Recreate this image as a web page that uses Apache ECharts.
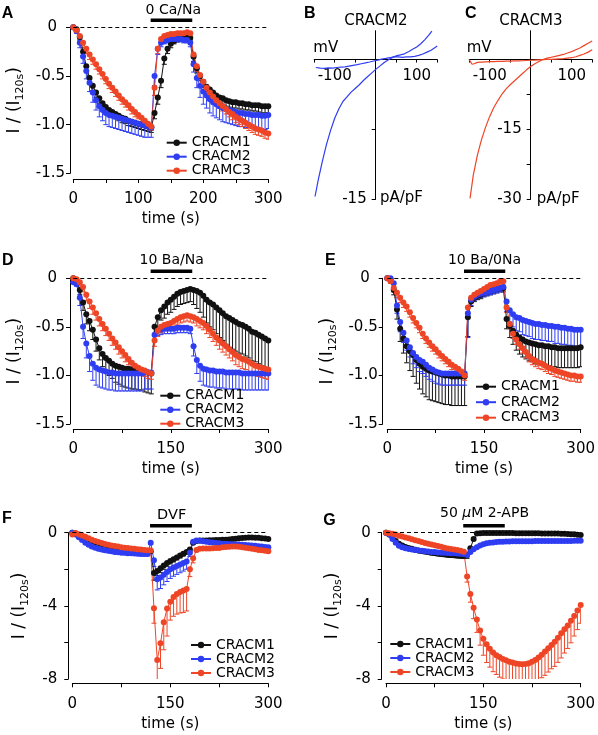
<!DOCTYPE html>
<html><head><meta charset="utf-8">
<script src="https://cdn.jsdelivr.net/npm/echarts@6/dist/echarts.min.js"></script>
<style>html,body{margin:0;padding:0;background:#fff}#c{width:598px;height:735px}</style>
</head><body><div id="c"></div>
<script>
// ---------- DATA ----------
const times = [0,5,10,15,20,25,30,35,40,45,50,55,60,65,70,75,80,85,90,95,100,105,110,115,120,125,130,135,140,145,150,155,160,165,170,175,180,185,190,195,200,205,210,215,220,225,230,235,240,245,250,255,260,265,270,275,280,285,290,295,300];
const stimWindow = [119, 183];

// Panel A (0 Ca/Na)
const A_CRACM1 = [0,-0.02,-0.10,-0.25,-0.40,-0.52,-0.60,-0.67,-0.73,-0.78,-0.82,-0.85,-0.87,-0.89,-0.91,-0.93,-0.94,-0.96,-0.97,-0.98,-0.99,-1.00,-1.01,-1.02,-1.03,-0.88,-0.72,-0.55,-0.32,-0.22,-0.17,-0.14,-0.12,-0.11,-0.10,-0.10,-0.11,-0.30,-0.42,-0.50,-0.56,-0.61,-0.64,-0.67,-0.70,-0.72,-0.73,-0.75,-0.76,-0.77,-0.77,-0.78,-0.78,-0.79,-0.79,-0.80,-0.80,-0.80,-0.81,-0.81,-0.81];
const A_CRACM1_err = [0,0.01,0.03,0.04,0.05,0.05,0.05,0.05,0.05,0.05,0.05,0.05,0.05,0.05,0.05,0.05,0.05,0.05,0.05,0.05,0.05,0.05,0.05,0.05,0.05,0.06,0.07,0.07,0.06,0.05,0.04,0.03,0.03,0.03,0.03,0.03,0.03,0.05,0.05,0.05,0.06,0.06,0.06,0.06,0.06,0.06,0.06,0.06,0.06,0.06,0.06,0.06,0.06,0.06,0.06,0.06,0.06,0.07,0.07,0.07,0.07];
const A_CRACM2 = [0,-0.04,-0.16,-0.30,-0.45,-0.57,-0.67,-0.75,-0.81,-0.85,-0.88,-0.90,-0.91,-0.92,-0.93,-0.94,-0.95,-0.96,-0.97,-0.98,-0.99,-1.00,-1.01,-1.02,-1.03,-0.50,-0.22,-0.16,-0.14,-0.13,-0.12,-0.12,-0.12,-0.12,-0.13,-0.13,-0.16,-0.38,-0.52,-0.60,-0.66,-0.70,-0.74,-0.77,-0.79,-0.81,-0.83,-0.84,-0.85,-0.86,-0.87,-0.88,-0.88,-0.89,-0.89,-0.90,-0.90,-0.90,-0.91,-0.91,-0.90];
const A_CRACM2_err = [0,0.02,0.05,0.07,0.08,0.09,0.10,0.10,0.11,0.11,0.12,0.12,0.12,0.12,0.12,0.12,0.12,0.12,0.12,0.12,0.12,0.12,0.12,0.11,0.10,0.10,0.06,0.04,0.03,0.03,0.03,0.03,0.03,0.03,0.03,0.03,0.04,0.08,0.10,0.12,0.13,0.13,0.14,0.14,0.14,0.14,0.14,0.14,0.14,0.14,0.14,0.14,0.14,0.14,0.14,0.14,0.14,0.14,0.14,0.14,0.14];
const A_CRAMC3 = [0,-0.03,-0.09,-0.16,-0.22,-0.28,-0.33,-0.38,-0.43,-0.48,-0.53,-0.58,-0.62,-0.66,-0.70,-0.74,-0.77,-0.80,-0.84,-0.87,-0.90,-0.93,-0.96,-0.99,-1.02,-0.62,-0.22,-0.12,-0.09,-0.08,-0.07,-0.07,-0.06,-0.06,-0.06,-0.05,-0.06,-0.28,-0.40,-0.49,-0.56,-0.62,-0.67,-0.71,-0.75,-0.78,-0.81,-0.84,-0.87,-0.89,-0.92,-0.94,-0.96,-0.98,-1.00,-1.02,-1.04,-1.05,-1.06,-1.08,-1.09];
const A_CRAMC3_err = [0,0.02,0.04,0.05,0.05,0.05,0.05,0.05,0.05,0.05,0.05,0.05,0.05,0.05,0.05,0.05,0.05,0.05,0.05,0.05,0.04,0.04,0.04,0.04,0.04,0.08,0.05,0.03,0.02,0.02,0.02,0.02,0.02,0.02,0.02,0.02,0.02,0.04,0.05,0.05,0.05,0.05,0.05,0.05,0.05,0.05,0.05,0.05,0.05,0.06,0.06,0.06,0.06,0.06,0.06,0.06,0.06,0.06,0.06,0.06,0.06];

// Panel D (10 Ba/Na)
const D_CRACM1 = [0,-0.03,-0.12,-0.25,-0.37,-0.44,-0.53,-0.63,-0.72,-0.78,-0.82,-0.85,-0.88,-0.90,-0.91,-0.92,-0.93,-0.93,-0.94,-0.94,-0.95,-0.95,-0.96,-0.97,-0.98,-0.50,-0.40,-0.33,-0.29,-0.25,-0.22,-0.19,-0.16,-0.14,-0.13,-0.12,-0.11,-0.12,-0.13,-0.15,-0.18,-0.22,-0.25,-0.27,-0.30,-0.33,-0.36,-0.39,-0.41,-0.43,-0.45,-0.47,-0.48,-0.50,-0.52,-0.55,-0.56,-0.58,-0.60,-0.62,-0.64];
const D_CRACM1_err = [0,0.02,0.05,0.08,0.10,0.10,0.10,0.12,0.12,0.13,0.14,0.15,0.15,0.17,0.18,0.19,0.19,0.20,0.20,0.20,0.20,0.20,0.21,0.21,0.21,0.10,0.10,0.10,0.12,0.12,0.13,0.13,0.13,0.13,0.13,0.13,0.13,0.15,0.18,0.20,0.22,0.24,0.25,0.26,0.27,0.28,0.28,0.29,0.30,0.30,0.30,0.30,0.30,0.30,0.30,0.30,0.30,0.30,0.30,0.30,0.30];
const D_CRACM2 = [-0.04,-0.06,-0.20,-0.50,-0.67,-0.80,-0.88,-0.92,-0.94,-0.95,-0.96,-0.97,-0.97,-0.98,-0.98,-0.98,-0.98,-0.98,-0.98,-0.98,-0.98,-0.98,-0.97,-0.97,-0.97,-0.58,-0.54,-0.53,-0.52,-0.52,-0.52,-0.52,-0.51,-0.51,-0.51,-0.51,-0.52,-0.70,-0.84,-0.90,-0.93,-0.94,-0.95,-0.95,-0.96,-0.96,-0.96,-0.97,-0.97,-0.97,-0.97,-0.97,-0.98,-0.98,-0.98,-0.98,-0.98,-0.98,-0.98,-0.98,-0.98];
const D_CRACM2_err = [0,0.02,0.08,0.12,0.15,0.16,0.17,0.18,0.18,0.18,0.18,0.18,0.18,0.18,0.18,0.18,0.18,0.18,0.18,0.18,0.18,0.18,0.17,0.17,0.17,0.06,0.05,0.05,0.05,0.05,0.05,0.05,0.05,0.05,0.05,0.05,0.05,0.10,0.14,0.16,0.17,0.17,0.17,0.17,0.17,0.17,0.17,0.17,0.17,0.17,0.17,0.17,0.17,0.17,0.17,0.17,0.17,0.17,0.17,0.17,0.17];
const D_CRACM3 = [0,-0.01,-0.04,-0.09,-0.17,-0.24,-0.30,-0.36,-0.42,-0.47,-0.52,-0.57,-0.62,-0.66,-0.71,-0.75,-0.79,-0.83,-0.87,-0.90,-0.92,-0.94,-0.95,-0.97,-0.98,-0.64,-0.54,-0.50,-0.48,-0.47,-0.46,-0.44,-0.42,-0.40,-0.39,-0.38,-0.39,-0.40,-0.42,-0.44,-0.46,-0.49,-0.53,-0.57,-0.61,-0.64,-0.67,-0.70,-0.73,-0.76,-0.79,-0.81,-0.83,-0.84,-0.86,-0.88,-0.90,-0.91,-0.92,-0.93,-0.94];
const D_CRACM3_err = [0,0.02,0.04,0.05,0.06,0.07,0.07,0.07,0.07,0.07,0.07,0.07,0.07,0.07,0.07,0.07,0.07,0.06,0.06,0.06,0.06,0.06,0.06,0.06,0.06,0.06,0.06,0.06,0.06,0.06,0.06,0.06,0.06,0.06,0.06,0.06,0.06,0.06,0.07,0.07,0.07,0.08,0.08,0.08,0.08,0.09,0.09,0.09,0.09,0.09,0.10,0.10,0.10,0.10,0.10,0.10,0.10,0.10,0.10,0.10,0.10];

// Panel E (10 Ba/0Na)
const E_CRACM1 = [0,-0.01,-0.12,-0.32,-0.52,-0.62,-0.70,-0.75,-0.79,-0.84,-0.88,-0.91,-0.93,-0.95,-0.96,-0.97,-0.98,-0.99,-1.00,-1.00,-1.01,-1.01,-1.01,-1.01,-1.01,-0.40,-0.24,-0.20,-0.18,-0.17,-0.15,-0.14,-0.13,-0.12,-0.11,-0.10,-0.10,-0.42,-0.49,-0.54,-0.58,-0.61,-0.63,-0.65,-0.66,-0.67,-0.68,-0.69,-0.69,-0.70,-0.70,-0.71,-0.71,-0.72,-0.72,-0.72,-0.72,-0.72,-0.72,-0.72,-0.71];
const E_CRACM1_err = [0,0.02,0.05,0.10,0.13,0.15,0.17,0.20,0.22,0.24,0.26,0.28,0.29,0.30,0.30,0.30,0.30,0.30,0.30,0.30,0.30,0.30,0.30,0.30,0.30,0.20,0.05,0.04,0.04,0.04,0.04,0.04,0.04,0.04,0.04,0.04,0.04,0.10,0.12,0.14,0.16,0.17,0.18,0.18,0.19,0.19,0.20,0.20,0.20,0.20,0.20,0.20,0.20,0.20,0.20,0.20,0.20,0.20,0.20,0.20,0.20];
const E_CRACM2 = [0,0,-0.05,-0.28,-0.45,-0.56,-0.64,-0.71,-0.77,-0.81,-0.84,-0.86,-0.89,-0.92,-0.94,-0.96,-0.97,-0.98,-0.98,-0.98,-0.98,-0.98,-0.98,-0.98,-0.98,-0.36,-0.22,-0.19,-0.17,-0.16,-0.15,-0.14,-0.13,-0.12,-0.11,-0.10,-0.09,-0.24,-0.33,-0.37,-0.40,-0.41,-0.43,-0.44,-0.45,-0.46,-0.47,-0.47,-0.48,-0.48,-0.49,-0.49,-0.50,-0.50,-0.51,-0.51,-0.52,-0.52,-0.53,-0.53,-0.53];
const E_CRACM2_err = [0,0.01,0.05,0.08,0.10,0.10,0.10,0.10,0.11,0.11,0.12,0.12,0.12,0.12,0.12,0.12,0.12,0.12,0.12,0.12,0.12,0.12,0.12,0.12,0.12,0.25,0.06,0.04,0.04,0.04,0.04,0.04,0.04,0.04,0.04,0.04,0.04,0.10,0.12,0.13,0.14,0.14,0.15,0.15,0.15,0.16,0.16,0.16,0.16,0.16,0.16,0.16,0.17,0.17,0.17,0.17,0.17,0.17,0.17,0.17,0.17];
const E_CRACM3 = [0,-0.03,-0.10,-0.15,-0.20,-0.25,-0.29,-0.35,-0.41,-0.46,-0.51,-0.57,-0.62,-0.66,-0.70,-0.73,-0.77,-0.80,-0.83,-0.86,-0.89,-0.91,-0.93,-0.96,-1.00,-0.30,-0.20,-0.17,-0.15,-0.13,-0.11,-0.09,-0.07,-0.06,-0.05,-0.03,-0.03,-0.30,-0.47,-0.57,-0.63,-0.68,-0.72,-0.76,-0.80,-0.83,-0.85,-0.87,-0.88,-0.90,-0.92,-0.93,-0.95,-0.96,-0.97,-0.98,-0.99,-1.00,-1.00,-1.01,-1.01];
const E_CRACM3_err = [0,0.02,0.04,0.05,0.05,0.05,0.05,0.05,0.05,0.05,0.05,0.05,0.05,0.05,0.05,0.05,0.05,0.05,0.05,0.05,0.05,0.05,0.05,0.05,0.05,0.05,0.04,0.04,0.04,0.04,0.04,0.04,0.04,0.04,0.04,0.04,0.04,0.05,0.05,0.05,0.05,0.05,0.05,0.06,0.06,0.06,0.06,0.06,0.06,0.06,0.06,0.06,0.06,0.06,0.06,0.06,0.06,0.06,0.06,0.06,0.06];

// Panel F (DVF)
const F_CRACM1 = [0,-0.05,-0.15,-0.25,-0.33,-0.40,-0.46,-0.52,-0.57,-0.62,-0.66,-0.70,-0.74,-0.77,-0.80,-0.83,-0.86,-0.88,-0.90,-0.92,-0.94,-0.96,-0.98,-1.00,-1.02,-2.20,-2.10,-1.95,-1.80,-1.66,-1.55,-1.45,-1.35,-1.25,-1.15,-1.05,-0.92,-0.55,-0.45,-0.42,-0.42,-0.42,-0.41,-0.41,-0.40,-0.40,-0.39,-0.38,-0.37,-0.35,-0.33,-0.31,-0.29,-0.27,-0.26,-0.26,-0.27,-0.28,-0.30,-0.32,-0.34];
const F_CRACM1_err = [0,0.02,0.03,0.04,0.05,0.05,0.05,0.05,0.05,0.05,0.05,0.05,0.05,0.05,0.05,0.05,0.05,0.05,0.05,0.05,0.05,0.05,0.05,0.05,0.05,0.40,0.25,0.22,0.20,0.18,0.16,0.15,0.14,0.13,0.12,0.12,0.10,0.06,0.05,0.05,0.05,0.05,0.05,0.05,0.05,0.05,0.05,0.05,0.05,0.05,0.05,0.05,0.05,0.05,0.05,0.05,0.05,0.05,0.05,0.05,0.05];
const F_CRACM2 = [0,-0.10,-0.25,-0.40,-0.55,-0.66,-0.75,-0.82,-0.88,-0.92,-0.96,-0.99,-1.02,-1.05,-1.07,-1.09,-1.10,-1.12,-1.13,-1.14,-1.15,-1.16,-1.17,-1.17,-0.55,-1.50,-2.55,-2.45,-2.30,-2.15,-2.00,-1.90,-1.82,-1.74,-1.66,-1.58,-1.10,-0.50,-0.42,-0.44,-0.47,-0.50,-0.52,-0.54,-0.56,-0.58,-0.60,-0.61,-0.62,-0.63,-0.64,-0.65,-0.66,-0.67,-0.68,-0.70,-0.72,-0.74,-0.76,-0.78,-0.80];
const F_CRACM2_err = [0,0.03,0.05,0.07,0.08,0.09,0.10,0.10,0.10,0.10,0.10,0.10,0.10,0.10,0.10,0.10,0.10,0.10,0.10,0.10,0.10,0.10,0.10,0.10,0.10,0.35,0.58,0.60,0.55,0.52,0.50,0.48,0.46,0.45,0.44,0.42,0.20,0.08,0.06,0.06,0.06,0.06,0.06,0.06,0.06,0.06,0.06,0.06,0.06,0.06,0.06,0.06,0.06,0.06,0.06,0.06,0.06,0.06,0.06,0.06,0.06];
const F_CRACM3 = [-0.10,-0.02,-0.08,-0.15,-0.22,-0.30,-0.38,-0.45,-0.51,-0.57,-0.62,-0.66,-0.70,-0.73,-0.76,-0.79,-0.82,-0.84,-0.86,-0.88,-0.90,-0.92,-0.94,-0.96,-0.98,-4.13,-6.96,-6.05,-4.90,-4.15,-3.78,-3.52,-3.35,-3.24,-3.16,-3.08,-2.00,-1.40,-0.95,-0.88,-0.86,-0.86,-0.86,-0.85,-0.84,-0.83,-0.80,-0.78,-0.77,-0.76,-0.76,-0.77,-0.79,-0.82,-0.85,-0.88,-0.91,-0.94,-0.96,-0.99,-1.02];
const F_CRACM3_err = [0,0.02,0.03,0.03,0.03,0.03,0.03,0.03,0.03,0.03,0.03,0.03,0.03,0.03,0.03,0.03,0.03,0.03,0.03,0.03,0.03,0.03,0.03,0.03,0.03,0.82,1.10,1.37,1.50,1.50,1.00,1.05,1.10,1.15,1.20,1.20,0.40,0.25,0.10,0.05,0.05,0.05,0.05,0.05,0.05,0.05,0.05,0.05,0.05,0.05,0.05,0.05,0.05,0.05,0.05,0.05,0.05,0.05,0.05,0.05,0.05];

// Panel G (50 uM 2-APB)
const G_CRACM1 = [0,-0.10,-0.25,-0.45,-0.60,-0.70,-0.78,-0.84,-0.88,-0.93,-0.97,-1.00,-1.03,-1.06,-1.09,-1.11,-1.14,-1.16,-1.18,-1.20,-1.22,-1.23,-1.25,-1.26,-1.27,-1.20,-0.85,-0.35,-0.05,-0.03,-0.02,-0.02,-0.02,-0.02,-0.02,-0.02,-0.02,-0.02,-0.02,-0.02,-0.03,-0.03,-0.03,-0.03,-0.03,-0.03,-0.03,-0.03,-0.04,-0.04,-0.04,-0.04,-0.05,-0.05,-0.06,-0.06,-0.07,-0.08,-0.09,-0.11,-0.13];
const G_CRACM1_err = [0,0.02,0.04,0.06,0.07,0.08,0.09,0.10,0.10,0.11,0.11,0.12,0.12,0.12,0.12,0.13,0.13,0.13,0.13,0.13,0.13,0.13,0.13,0.13,0.13,0.20,0.15,0.08,0.03,0.02,0.02,0.02,0.02,0.02,0.02,0.02,0.02,0.02,0.02,0.02,0.02,0.02,0.02,0.02,0.02,0.02,0.02,0.02,0.02,0.02,0.02,0.02,0.02,0.02,0.02,0.02,0.02,0.02,0.02,0.02,0.02];
const G_CRACM2 = [0,-0.10,-0.35,-0.55,-0.72,-0.80,-0.85,-0.89,-0.92,-0.95,-0.97,-0.99,-1.01,-1.03,-1.05,-1.06,-1.08,-1.09,-1.10,-1.11,-1.12,-1.13,-1.14,-1.15,-1.16,-1.22,-1.05,-0.90,-0.79,-0.70,-0.63,-0.58,-0.55,-0.53,-0.51,-0.50,-0.49,-0.48,-0.48,-0.47,-0.47,-0.47,-0.47,-0.47,-0.47,-0.47,-0.46,-0.46,-0.46,-0.46,-0.46,-0.46,-0.46,-0.46,-0.45,-0.45,-0.45,-0.45,-0.44,-0.44,-0.44];
const G_CRACM2_err = [0,0.02,0.05,0.07,0.08,0.08,0.08,0.08,0.08,0.08,0.08,0.08,0.08,0.08,0.08,0.08,0.08,0.08,0.08,0.08,0.08,0.08,0.08,0.08,0.08,0.10,0.08,0.06,0.05,0.05,0.05,0.05,0.05,0.05,0.05,0.05,0.05,0.05,0.05,0.05,0.05,0.05,0.05,0.05,0.05,0.05,0.05,0.05,0.05,0.05,0.05,0.05,0.05,0.05,0.05,0.05,0.05,0.05,0.05,0.05,0.05];
const G_CRACM3 = [0,-0.03,-0.06,-0.10,-0.16,-0.21,-0.26,-0.31,-0.36,-0.41,-0.46,-0.51,-0.56,-0.60,-0.65,-0.69,-0.73,-0.77,-0.82,-0.86,-0.89,-0.92,-0.95,-0.99,-1.04,-2.40,-3.35,-4.10,-4.75,-5.35,-5.80,-6.10,-6.35,-6.55,-6.70,-6.80,-6.90,-6.98,-7.06,-7.10,-7.15,-7.18,-7.20,-7.18,-7.14,-7.06,-6.96,-6.83,-6.68,-6.50,-6.32,-6.14,-5.96,-5.74,-5.50,-5.28,-5.08,-4.82,-4.55,-4.25,-3.95];
const G_CRACM3_err = [0,0.02,0.03,0.03,0.04,0.04,0.04,0.04,0.05,0.05,0.05,0.05,0.05,0.05,0.05,0.05,0.05,0.05,0.05,0.05,0.05,0.05,0.05,0.05,0.05,0.30,0.45,0.60,0.70,0.80,0.90,1.00,1.00,1.05,1.05,1.10,1.10,1.10,1.10,1.10,1.10,1.10,1.10,1.15,1.15,1.20,1.20,1.25,1.25,1.30,1.30,1.30,1.35,1.35,1.35,1.30,1.25,1.20,1.10,1.05,1.00];

// Panel B (CRACM2 I-V)
const B_trace1_mV = [-148,-140,-130,-120,-110,-100,-90,-80,-70,-60,-50,-40,-30,-20,-10,0,10,20,30,40,50,60,70,80,90,100,110,120,130,137];
const B_trace1_pA = [-14.7,-12.9,-10.9,-9.1,-7.6,-6.3,-5.3,-4.5,-4.0,-3.5,-3.1,-2.7,-2.25,-1.85,-1.45,-1.05,-0.7,-0.35,-0.05,0.2,0.4,0.5,0.62,0.85,1.1,1.35,1.7,2.15,2.65,3.05];
const B_trace2_mV = [-146,-135,-125,-115,-105,-95,-85,-75,-65,-55,-45,-35,-25,-15,-5,5,15,25,35,45,55,65,75,85,95,105,115,125,135,145,150];
const B_trace2_pA = [-0.85,-0.92,-0.95,-0.9,-0.92,-0.85,-0.8,-0.78,-0.7,-0.62,-0.55,-0.45,-0.36,-0.26,-0.15,-0.05,0.05,0.12,0.2,0.32,0.28,0.24,0.28,0.3,0.35,0.45,0.6,0.8,1.0,1.3,1.45];
// Panel C (CRACM3 I-V)
const C_trace1_mV = [-148,-140,-130,-120,-110,-100,-90,-80,-70,-60,-50,-40,-30,-20,-10,0,10,20,30,40,50,60,70,80,90,100,110,120,130,140,150];
const C_trace1_pA = [-29.8,-24.8,-20.5,-17.2,-14.5,-12.2,-10.3,-8.8,-7.4,-6.3,-5.4,-4.6,-3.8,-3.0,-2.2,-1.5,-0.9,-0.4,0.0,0.3,0.5,0.7,0.9,1.1,1.4,1.7,2.1,2.5,3.0,3.5,4.0];
const C_trace2_mV = [-150,-147,-143,-138,-130,-120,-110,-100,-90,-80,-70,-60,-50,-40,-30,-20,-10,0,10,20,30,40,50,60,70,80,90,100,110,120,130,140,150];
const C_trace2_pA = [0.0,-0.4,-1.0,-0.9,-0.6,-0.55,-0.5,-0.45,-0.45,-0.4,-0.4,-0.35,-0.35,-0.3,-0.3,-0.25,-0.2,-0.15,-0.1,-0.05,0.0,0.05,0.05,0.1,0.15,0.2,0.3,0.4,0.6,0.9,1.2,1.6,2.1];

// ---------- CHART ----------
const FONT = "'DejaVu Sans', sans-serif";
const BLACK = '#111111', BLUE = '#2e3df2', RED = '#ee4526';
const COLS = [BLACK, BLUE, RED];

const panels = [
  {grid:{left:73.3,top:27.3,width:195,height:146}, yMin:-1.5, yInt:0.5, minorY:false, xInt:100, yOff:3.3, xOff:5.7, dec:true, nameGap:44,
   names:['CRACM1','CRACM2','CRAMC3'], vals:[A_CRACM1,A_CRACM2,A_CRAMC3], errs:[A_CRACM1_err,A_CRACM2_err,A_CRAMC3_err], leg:{left:165.7, top:135.7, gap:0}},
  {grid:{left:73.3,top:278.3,width:195,height:145.7}, yMin:-1.5, yInt:0.5, minorY:false, xInt:150, yOff:3.3, xOff:5, dec:true, nameGap:44,
   names:['CRACM1','CRACM2','CRACM3'], vals:[D_CRACM1,D_CRACM2,D_CRACM3], errs:[D_CRACM1_err,D_CRACM2_err,D_CRACM3_err], leg:{left:159.3, top:388.7, gap:0}},
  {grid:{left:387.3,top:278.3,width:195.3,height:145.7}, yMin:-1.5, yInt:0.5, minorY:false, xInt:150, yOff:4.6, xOff:5, dec:true, nameGap:44,
   names:['CRACM1','CRACM2','CRACM3'], vals:[E_CRACM1,E_CRACM2,E_CRACM3], errs:[E_CRACM1_err,E_CRACM2_err,E_CRACM3_err], leg:{left:475, top:379.7, gap:1.5}},
  {grid:{left:72.3,top:532.7,width:196,height:146.3}, yMin:-8, yInt:4, minorY:true, xInt:150, yOff:4, xOff:4.3, dec:false, nameGap:38,
   names:['CRACM1','CRACM2','CRACM3'], vals:[F_CRACM1,F_CRACM2,F_CRACM3], errs:[F_CRACM1_err,F_CRACM2_err,F_CRACM3_err], leg:{left:190, top:638, gap:0}},
  {grid:{left:386,top:532.7,width:196.7,height:146.3}, yMin:-8, yInt:4, minorY:true, xInt:150, yOff:4.3, xOff:4.3, dec:false, nameGap:38,
   names:['CRACM1','CRACM2','CRACM3'], vals:[G_CRACM1,G_CRACM2,G_CRACM3], errs:[G_CRACM1_err,G_CRACM2_err,G_CRACM3_err], leg:{left:389.3, top:637, gap:0}}
];

function errRenderer(color){
  return function(params, api){
    const t = api.value(0), v = api.value(1), e = api.value(2);
    if (!(e > 0)) return null;
    const p0 = api.coord([t, v]), p1 = api.coord([t, v - e]);
    const st = {stroke: color, lineWidth: 1, fill: null};
    return {type:'group', children:[
      {type:'line', shape:{x1:p0[0], y1:p0[1], x2:p1[0], y2:p1[1]}, style: st},
      {type:'line', shape:{x1:p1[0]-2.5, y1:p1[1], x2:p1[0]+2.5, y2:p1[1]}, style: st}
    ]};
  };
}
function stimRenderer(params, api){
  const a = api.coord([api.value(0), 0]), b = api.coord([api.value(1), 0]);
  return {type:'line', shape:{x1:a[0], y1:a[1]-7, x2:b[0], y2:b[1]-7}, style:{stroke:'#000', lineWidth:3.5}};
}

const grids = [], xAxes = [], yAxes = [], series = [], legends = [];

panels.forEach((p, i) => {
  grids.push(p.grid);
  xAxes.push({gridIndex:i, type:'value', min:0, max:300, interval:p.xInt, offset:p.xOff,
    axisLine:{onZero:false, lineStyle:{color:'#000', width:1}},
    axisTick:{length:4, lineStyle:{color:'#000'}},
    minorTick:{show:true, splitNumber:2, length:4, lineStyle:{color:'#000'}},
    splitLine:{show:false}, minorSplitLine:{show:false},
    axisLabel:{color:'#000', fontSize:15, fontFamily:FONT, margin:13},
    name:'time (s)', nameLocation:'middle', nameGap:33,
    nameTextStyle:{color:'#000', fontSize:15, fontFamily:FONT}});
  yAxes.push({gridIndex:i, type:'value', min:p.yMin, max:0, interval:p.yInt, offset:p.yOff,
    axisLine:{onZero:false, lineStyle:{color:'#000', width:1}},
    axisTick:{length:4, lineStyle:{color:'#000'}},
    minorTick:{show:p.minorY, splitNumber:2, length:4, lineStyle:{color:'#000'}},
    splitLine:{show:false}, minorSplitLine:{show:false},
    axisLabel:{color:'#000', fontSize:15, fontFamily:FONT, margin:p.dec ? 5 : 11,
      formatter: v => v === 0 ? (p.dec ? '{z|0}' : '0') : (p.dec ? v.toFixed(1) : String(v)),
      rich:{z:{fontSize:15, fontFamily:FONT, color:'#000', padding:[0,8,0,0]}}},
    name:'I / (I{s|120s})', nameLocation:'middle', nameGap:p.nameGap, nameRotate:90,
    nameTextStyle:{color:'#000', fontSize:17, fontFamily:FONT, lineHeight:22,
      rich:{s:{fontSize:11, fontFamily:FONT, color:'#000', lineHeight:11, verticalAlign:'bottom'}}}});
  p.vals.forEach((vals, j) => {
    series.push({type:'custom', name:'err'+i+'_'+j, xAxisIndex:i, yAxisIndex:i, clip:true, silent:true, animation:false,
      renderItem: errRenderer(COLS[j]), encode:{x:0, y:1},
      data: times.map((t, k) => [t, vals[k], p.errs[j][k]])});
    const s = {type:'line', name:p.names[j], xAxisIndex:i, yAxisIndex:i, animation:false, silent:true,
      data: times.map((t, k) => [t, vals[k]]), symbol:'circle', symbolSize:6, showSymbol:true,
      lineStyle:{color:COLS[j], width:1}, itemStyle:{color:COLS[j]}};
    if (j === 0) s.markLine = {silent:true, symbol:['none','none'], label:{show:false}, animation:false,
      lineStyle:{color:'#000', width:1, type:[4,3]}, data:[{yAxis:0}]};
    series.push(s);
  });
  series.push({type:'custom', name:'stim'+i, xAxisIndex:i, yAxisIndex:i, clip:false, silent:true, animation:false,
    renderItem: stimRenderer, encode:{x:[0,1]}, data:[stimWindow]});
  legends.push({show:true, orient:'vertical', left:p.leg.left, top:p.leg.top, itemGap:p.leg.gap, padding:0,
    itemWidth:20, itemHeight:8, selectedMode:false,
    textStyle:{color:'#000', fontSize:14, fontFamily:FONT, lineHeight:14},
    data:p.names.map(n => ({name:n}))});
});

// I-V panels B and C (axes cross at the origin)
const ivPanels = [
  {grid:{left:314.2, top:30.7, width:123, height:168.6}, xMin:-150, xMax:150, yMin:-15, yMax:3.1, ticks:[-15,-7.5], labels:[-15], color:BLUE,
   traces:[[B_trace1_mV,B_trace1_pA],[B_trace2_mV,B_trace2_pA]]},
  {grid:{left:469.2, top:30.7, width:123, height:168.6}, xMin:-150, xMax:150, yMin:-30, yMax:6.2, ticks:[-30,-22.5,-15,-7.5], labels:[-30,-15], color:RED,
   traces:[[C_trace1_mV,C_trace1_pA],[C_trace2_mV,C_trace2_pA]]}
];
ivPanels.forEach((p, m) => {
  const gi = grids.length;
  grids.push(p.grid);
  // shift axes so that they cross at (0, 0)
  const xOff = -p.grid.height * (0 - p.yMin) / (p.yMax - p.yMin);
  const yOff = -p.grid.width * (0 - p.xMin) / (p.xMax - p.xMin);
  xAxes.push({gridIndex:gi, type:'value', min:p.xMin, max:p.xMax, interval:50, offset:xOff,
    axisLine:{onZero:false, lineStyle:{color:'#000', width:1}},
    axisTick:{length:3, lineStyle:{color:'#000'}}, splitLine:{show:false},
    axisLabel:{color:'#000', fontSize:15, fontFamily:FONT, margin:9,
      formatter: v => (v === -100 || v === 100) ? String(v) : ''}});
  yAxes.push({gridIndex:gi, type:'value', min:p.yMin, max:p.yMax, offset:yOff,
    axisLine:{onZero:false, lineStyle:{color:'#000', width:1}},
    axisTick:{length:4, customValues:p.ticks, lineStyle:{color:'#000'}}, splitLine:{show:false},
    axisLabel:{color:'#000', fontSize:15, fontFamily:FONT, margin:9, customValues:p.labels}});
  p.traces.forEach((tr, k) => {
    series.push({type:'line', name:'iv'+m+'_'+k, xAxisIndex:gi, yAxisIndex:gi, animation:false, silent:true,
      showSymbol:false, symbol:'none', lineStyle:{color:p.color, width:1.2},
      data: tr[0].map((v, n) => [v, tr[1][n]])});
  });
});

function txt(x, y, text, size, opts){
  return Object.assign({type:'text', x:x, y:y, silent:true, style:Object.assign({text:text, fill:'#000',
    fontSize:size, fontFamily:'DejaVu Sans', align:'center', textAlign:'center', verticalAlign:'middle', textVerticalAlign:'middle'}, opts || {})});
}
function letter(x, y, t){
  return {type:'text', x:x, y:y, silent:true, style:{text:t, fill:'#000', fontSize:16, fontWeight:'bold', fontFamily:'Liberation Sans',
    align:'left', textAlign:'left', verticalAlign:'middle', textVerticalAlign:'middle'}};
}
const graphics = [
  letter(1.7, 13.2, 'A'), letter(304, 13.2, 'B'), letter(465, 13.2, 'C'),
  letter(2, 261, 'D'), letter(325, 261, 'E'), letter(2, 519, 'F'), letter(323.3, 521, 'G'),
  txt(173.3, 10, '0 Ca/Na', 14), txt(171.7, 260, '10 Ba/Na', 14), txt(484.5, 260, '10 Ba/0Na', 14),
  txt(171.7, 515, 'DVF', 14.5),
  txt(484.5, 513.3, '50 {i|μ}M 2-APB', 14, {rich:{i:{fontStyle:'italic', fontSize:14, fontFamily:'DejaVu Sans', fill:'#000'}}}),
  txt(375.8, 21, 'CRACM2', 15), txt(530.8, 21, 'CRACM3', 15),
  txt(313.3, 48, 'mV', 15, {align:'left', textAlign:'left'}), txt(466.7, 48, 'mV', 15, {align:'left', textAlign:'left'}),
  txt(380, 198.5, 'pA/pF', 15, {align:'left', textAlign:'left'}), txt(536.7, 199, 'pA/pF', 15, {align:'left', textAlign:'left'})
];

const chart = echarts.init(document.getElementById('c'), null, {renderer:'canvas'});
chart.setOption({
  animation:false, backgroundColor:'#fff',
  grid:grids, xAxis:xAxes, yAxis:yAxes, legend:legends, series:series, graphic:graphics
});
</script></body></html>
